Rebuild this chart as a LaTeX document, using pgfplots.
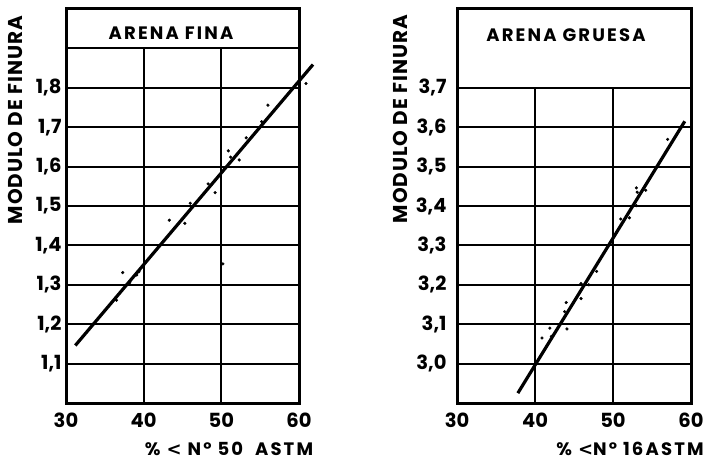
\documentclass[border=0pt]{standalone}
\usepackage{fontspec}
\setmainfont{Poppins}
\newfontfamily\trackfont[LetterSpace=12]{Poppins}
\newfontfamily\ylfont[LetterSpace=5]{Poppins}
\newfontfamily\symfont{DejaVu Sans}
\usepackage{pgfplots}
\pgfplotsset{compat=1.18}
\pgfplotsset{
  panel/.style={
    anchor=south west, scale only axis, clip=false,
    axis line style={line width=3pt},
    major tick length=0pt,
    xtick={30,40,50,60},
    xticklabels={30,40,50,60},
    tick label style={font=\fontsize{19.5}{19.5}\selectfont\bfseries},
    /pgf/number format/assume math mode=true,
    xticklabel style={yshift=-6pt},
    yticklabel style={xshift=-1pt},
  },
  grid/.style={black, line width=2pt, no markers, forget plot},
  fit/.style={black, line width=3.2pt, no markers},
  pts/.style={only marks, mark=*, mark size=1.4pt, black},
}
\begin{document}
\begin{tikzpicture}[x=1pt,y=1pt]
\path[use as bounding box] (0,0) rectangle (709,464);
% ---------------- ARENA FINA ----------------
\begin{axis}[panel, at={(66pt,61pt)}, width=233pt, height=394pt,
  xmin=30, xmax=60, ymin=1.0, ymax=2.0,
  ytick={1.1,1.2,1.3,1.4,1.5,1.6,1.7,1.8},
  yticklabels={{1,1},{1,2},{1,3},{1,4},{1,5},{1,6},{1,7},{1,8}}]
\addplot[grid] coordinates {(30,1.1)(60,1.1)};
\addplot[grid] coordinates {(30,1.2)(60,1.2)};
\addplot[grid] coordinates {(30,1.3)(60,1.3)};
\addplot[grid] coordinates {(30,1.4)(60,1.4)};
\addplot[grid] coordinates {(30,1.5)(60,1.5)};
\addplot[grid] coordinates {(30,1.6)(60,1.6)};
\addplot[grid] coordinates {(30,1.7)(60,1.7)};
\addplot[grid] coordinates {(30,1.8)(60,1.8)};
\addplot[grid] coordinates {(30,1.9)(60,1.9)};
\addplot[grid] coordinates {(40,1.0)(40,1.9)};
\addplot[grid] coordinates {(50,1.0)(50,1.9)};
\addplot[fit] coordinates {(31.2,1.146)(61.8,1.859)};
\addplot[pts] coordinates {
(60.9,1.811)(56.0,1.756)(55.2,1.714)(53.2,1.673)(50.9,1.640)(51.2,1.624)
(52.3,1.617)(48.3,1.556)(49.2,1.534)(46.0,1.507)(43.3,1.464)(45.3,1.456)
(37.3,1.331)(39.4,1.333)(39.1,1.325)(38.2,1.305)(36.5,1.261)(50.2,1.353)};
\end{axis}
% ---------------- ARENA GRUESA ----------------
\begin{axis}[panel, at={(457pt,61pt)}, width=234pt, height=394pt,
  xmin=30, xmax=60, ymin=2.9, ymax=3.9,
  ytick={3.0,3.1,3.2,3.3,3.4,3.5,3.6,3.7},
  yticklabels={{3,0},{3,1},{3,2},{3,3},{3,4},{3,5},{3,6},{3,7}},
  yticklabel style={xshift=-6pt}]
\addplot[grid] coordinates {(30,3.0)(60,3.0)};
\addplot[grid] coordinates {(30,3.1)(60,3.1)};
\addplot[grid] coordinates {(30,3.2)(60,3.2)};
\addplot[grid] coordinates {(30,3.3)(60,3.3)};
\addplot[grid] coordinates {(30,3.4)(60,3.4)};
\addplot[grid] coordinates {(30,3.5)(60,3.5)};
\addplot[grid] coordinates {(30,3.6)(60,3.6)};
\addplot[grid] coordinates {(30,3.7)(60,3.7)};
\addplot[grid] coordinates {(40,2.9)(40,3.7)};
\addplot[grid] coordinates {(50,2.9)(50,3.7)};
\addplot[fit] coordinates {(37.8,2.925)(59.2,3.615)};
\addplot[pts] coordinates {
(40.9,3.065)(42.1,3.069)(41.9,3.090)(44.1,3.088)(43.8,3.132)(44.0,3.155)
(45.9,3.165)(45.9,3.203)(46.9,3.200)(47.9,3.234)(51.0,3.367)(52.1,3.370)
(53.0,3.401)(53.0,3.446)(53.1,3.435)(54.2,3.440)(57.0,3.569)};
\end{axis}
% ---------------- labels ----------------
\node[rotate=90, font=\fontsize{20}{20}\selectfont\ylfont\bfseries] at (15,344) {MODULO DE FINURA};
\node[rotate=90, font=\fontsize{20}{20}\selectfont\ylfont\bfseries] at (400,345) {MODULO DE FINURA};
\node[font=\fontsize{18}{18}\selectfont\trackfont\bfseries] at (171,431) {ARENA FINA};
\node[font=\fontsize{18}{18}\selectfont\trackfont\bfseries] at (566,429) {ARENA GRUESA};
\node[font=\fontsize{18}{18}\selectfont\trackfont\bfseries] at (229,15) {\%~{\symfont\bfseries <}~Nº~50~~ASTM};
\node[font=\fontsize{18}{18}\selectfont\trackfont\bfseries] at (630,15) {\%~{\symfont\bfseries <}Nº~16ASTM};
\end{tikzpicture}
\end{document}
